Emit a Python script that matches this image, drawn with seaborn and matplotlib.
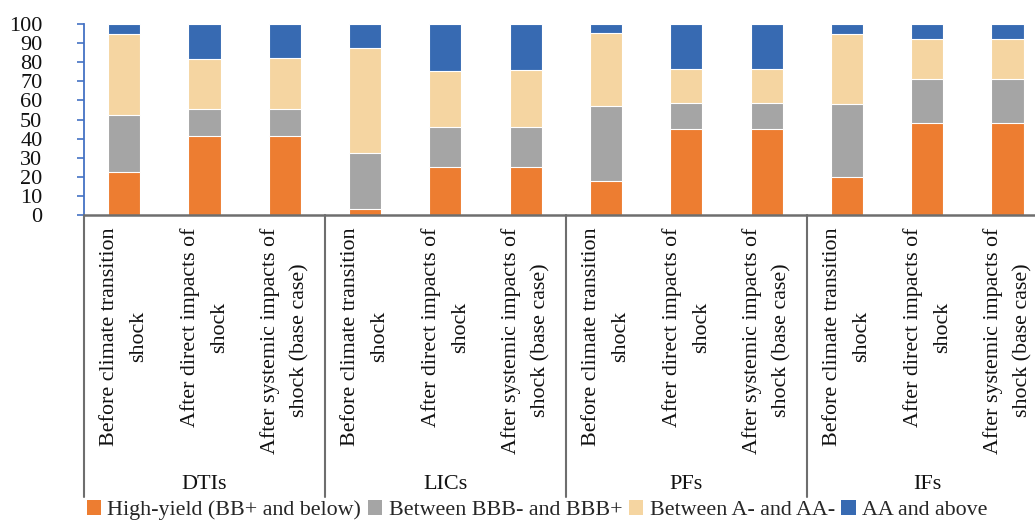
import matplotlib
matplotlib.use("Agg")
import matplotlib.pyplot as plt
import matplotlib.transforms as mtransforms
from matplotlib.patches import Patch
import numpy as np
import pandas as pd
import seaborn as sns

# Sectors and scenarios (x-axis hierarchy)
sectors = ["DTIs", "LICs", "PFs", "IFs"]
scenarios = [
    "Before climate transition\nshock",
    "After direct impacts of\nshock",
    "After systemic impacts of\nshock (base case)",
]

# Rating buckets, bottom to top
ratings = [
    "High-yield (BB+ and below)",
    "Between BBB- and BBB+",
    "Between A- and AA-",
    "AA and above",
]
colors = ["#ED7D31", "#A5A5A5", "#F5D5A1", "#376AB2"]

# Share of portfolio per rating bucket (percent), one entry per sector/scenario bar
high_yield = [22.7, 41.2, 41.2, 3.0, 25.0, 25.0, 17.6, 45.0, 45.0, 19.7, 48.0, 48.0]
bbb = [29.5, 14.5, 14.5, 29.6, 20.9, 20.9, 39.5, 13.6, 13.6, 38.3, 23.0, 23.0]
single_a = [42.4, 25.8, 26.3, 54.7, 29.3, 29.8, 38.2, 17.7, 17.7, 36.6, 21.0, 21.0]
aa_above = [5.4, 18.5, 18.0, 12.7, 24.8, 24.3, 4.7, 23.7, 23.7, 5.4, 8.0, 8.0]

sns.set_theme(style="white")
plt.rcParams["font.family"] = ["Liberation Serif", "DejaVu Serif"]

bar_keys = [f"{s}|{c}" for s in sectors for c in scenarios]
df = pd.DataFrame({
    "bar": bar_keys,
    ratings[0]: high_yield,
    ratings[1]: bbb,
    ratings[2]: single_a,
    ratings[3]: aa_above,
})
cum = df[ratings].cumsum(axis=1)

fig = plt.figure(figsize=(10.35, 5.23), dpi=100)
ax = fig.add_axes([0.0812, 0.589, 0.931, 0.365])

# Stacked bars: draw cumulative totals from the top bucket downward
for r, col in zip(reversed(ratings), reversed(colors)):
    sns.barplot(x=df["bar"], y=cum[r], order=bar_keys, color=col, width=0.4,
                edgecolor="white", linewidth=0.8, saturation=1, ax=ax)

ax.set_xlim(-0.5, len(bar_keys) - 0.5)
ax.set_ylim(0, 100)
ax.set_yticks(np.arange(0, 101, 10))
ax.set_xlabel("")
ax.set_ylabel("")

for side in ["top", "right"]:
    ax.spines[side].set_visible(False)
ax.spines["left"].set_color("#4472C4")
ax.spines["left"].set_linewidth(1.3)
ax.spines["bottom"].set_color("#6E6E6E")
ax.spines["bottom"].set_linewidth(1.8)

ax.tick_params(axis="y", which="major", left=True, length=5, width=1.2,
               color="#4472C4", pad=25, labelsize=16, labelcolor="#111111")
ax.tick_params(axis="x", which="major", bottom=False, length=0, pad=9)

ax.set_xticks(range(len(bar_keys)))
ax.set_xticklabels([c for s in sectors for c in scenarios], rotation=90,
                   ha="center", va="top", fontsize=15.8, color="#111111",
                   linespacing=1.72)

# Sector separators and sector labels below the scenario labels
trans = mtransforms.blended_transform_factory(ax.transData, ax.transAxes)
n = len(scenarios)
for i in range(len(sectors) + 1):
    xpos = i * n - 0.5
    ax.plot([xpos, xpos], [0, -1.476], transform=trans, color="#6E6E6E",
            linewidth=1.5, clip_on=False)
for i, s in enumerate(sectors):
    ax.text(i * n + (n - 1) / 2, -1.41, s, transform=trans, ha="center",
            va="center", fontsize=16, color="#111111")

handles = [Patch(facecolor=c, edgecolor="none") for c in colors]
fig.legend(handles, ratings, loc="center", bbox_to_anchor=(0.519, 0.024),
           ncol=4, frameon=False, fontsize=15.8, handlelength=0.65,
           handleheight=0.65, handletextpad=0.3, columnspacing=0.3,
           borderaxespad=0, borderpad=0)

fig.savefig("out.png", dpi=100)
